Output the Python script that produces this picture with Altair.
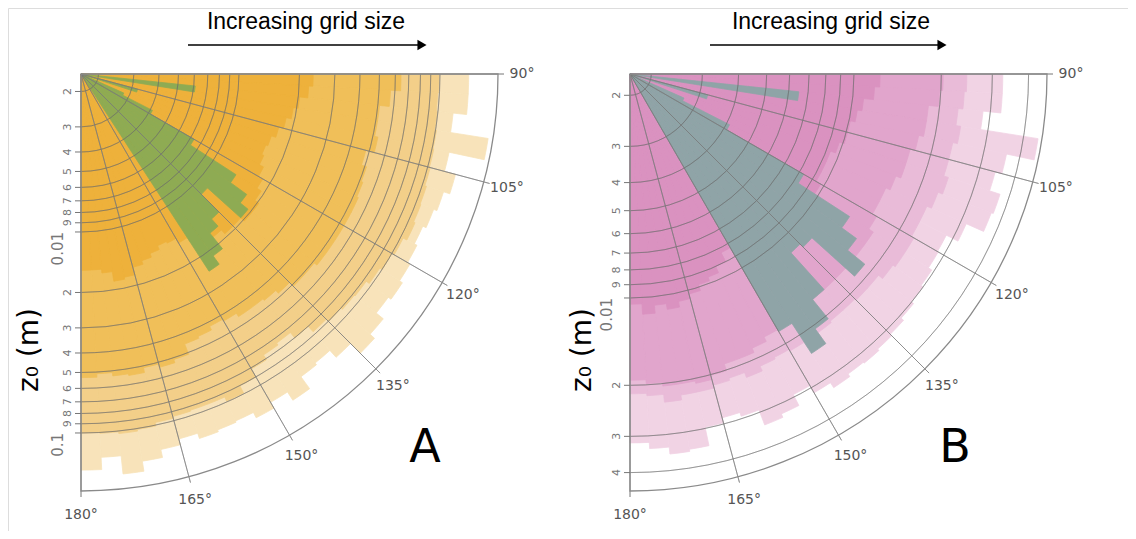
import math
import altair as alt
import pandas as pd

# ---------------- data ----------------
# 3-degree wind-direction bins (start angle, degrees)
BIN_START = list(range(90, 180, 3))
BIN_WIDTH = 3

# Panel A: z0 (m) per direction bin, four grid sizes (largest extent first)
A_L1 = [0.139, 0.139, 0.119, 0.184, 0.122, 0.139, 0.129, 0.124, 0.119, 0.123,
        0.127, 0.132, 0.127, 0.141, 0.151, 0.129, 0.116, 0.119, 0.141, 0.126,
        0.136, 0.127, 0.129, 0.132, 0.124, 0.133, 0.146, 0.164, 0.133, 0.153]
A_L2 = [0.099, 0.098, 0.099, 0.101, 0.102, 0.103, 0.105, 0.106, 0.108, 0.103,
        0.100, 0.097, 0.093, 0.092, 0.090, 0.087, 0.080, 0.074, 0.076, 0.081,
        0.090, 0.099, 0.094, 0.094, 0.095, 0.097, 0.101, 0.103, 0.101, 0.100]
A_L3 = [0.064, 0.057, 0.051, 0.051, 0.053, 0.048, 0.051, 0.052, 0.053, 0.053,
        0.053, 0.053, 0.053, 0.051, 0.051, 0.048, 0.046, 0.045, 0.045, 0.043,
        0.042, 0.044, 0.045, 0.051, 0.053, 0.051, 0.054, 0.053, 0.051, 0.053]
A_L4 = [0.0234, 0.0223, 0.0203, 0.0192, 0.0181, 0.0171, 0.0162, 0.0158, 0.0162, 0.0171,
        0.0181, 0.0192, 0.0203, 0.0203, 0.0192, 0.0192, 0.0181, 0.0171, 0.0162, 0.0153,
        0.0144, 0.0141, 0.0148, 0.0155, 0.0162, 0.0177, 0.0181, 0.0162, 0.0155, 0.0155]
A_OVER_DIR = [96, 105, 114, 117, 120, 123, 126, 129, 132, 135, 138, 141, 144]
A_OVER = [0.0061, 0.0032, 0.0028, 0.0041, 0.0073, 0.0136, 0.0171, 0.0192, 0.0115,
          0.0153, 0.0171, 0.0215, 0.0242]

# Panel B
B_L1 = [0.0326, 0.0326, 0.0283, 0.0449, 0.0359, 0.0340, 0.0371, 0.0365, 0.0314, 0.0283,
        0.0285, 0.0294, 0.0299, 0.0306, 0.0314, 0.0319, 0.0324, 0.0321, 0.0329, 0.0314,
        0.0294, 0.0324, 0.0334, 0.0294, 0.0285, 0.0297, 0.0345, 0.0351, 0.0332, 0.0316]
B_L2 = [0.0245, 0.0241, 0.0232, 0.0241, 0.0232, 0.0232, 0.0241, 0.0232, 0.0223, 0.0223,
        0.0228, 0.0228, 0.0223, 0.0214, 0.0214, 0.0211, 0.0211, 0.0214, 0.0223, 0.0214,
        0.0211, 0.0214, 0.0223, 0.0214, 0.0218, 0.0223, 0.0223, 0.0232, 0.0218, 0.0214]
B_L3 = [0.0203, 0.0198, 0.0183, 0.0183, 0.0176, 0.0169, 0.0169, 0.0162, 0.0156, 0.0156,
        0.0162, 0.0169, 0.0169, 0.0169, 0.0169, 0.0169, 0.0169, 0.0169, 0.0169, 0.0172,
        0.0176, 0.0183, 0.0190, 0.0190, 0.0201, 0.0208, 0.0204, 0.0204, 0.0198, 0.0192]
B_L4 = [0.0123, 0.0118, 0.0109, 0.0105, 0.0101, 0.0101, 0.0097, 0.0093, 0.0093, 0.0093,
        0.0097, 0.0101, 0.0101, 0.0101, 0.0101, 0.0101, 0.0101, 0.0101, 0.0101, 0.0101,
        0.0083, 0.0090, 0.0095, 0.0098, 0.0103, 0.0107, 0.0112, 0.0107, 0.0114, 0.0105]
B_OVER_DIR = [96, 105, 114, 117, 120, 123, 126, 129, 132, 135, 138, 141, 144, 147]
B_OVER = [0.0065, 0.0032, 0.0027, 0.0041, 0.0083, 0.0135, 0.0156, 0.0186, 0.0118,
          0.0114, 0.0169, 0.0206, 0.0238, 0.0179]

# radial (z0) ticks
A_TICKS = [0.002, 0.003, 0.004, 0.005, 0.006, 0.007, 0.008, 0.009, 0.01,
           0.02, 0.03, 0.04, 0.05, 0.06, 0.07, 0.08, 0.09, 0.1]
A_TICK_LABELS = ["2", "3", "4", "5", "6", "7", "8", "9", "0.01",
                 "2", "3", "4", "5", "6", "7", "8", "9", "0.1"]
B_TICKS = [0.002, 0.003, 0.004, 0.005, 0.006, 0.007, 0.008, 0.009, 0.01,
           0.02, 0.03, 0.04]
B_TICK_LABELS = ["2", "3", "4", "5", "6", "7", "8", "9", "0.01", "2", "3", "4"]

ANGLES = [90, 105, 120, 135, 150, 165, 180]
ANGLE_LABELS = ["90°", "105°", "120°", "135°", "150°", "165°", "180°"]

TITLE = "Increasing grid size"
RADIAL_TITLE = "z₀ (m)"

# ---------------- layout / style ----------------
FONT = "DejaVu Sans"
TWO_PI = 2 * math.pi

PANELS = [
    dict(cx=73, cy=66, R=417, zmin=0.001637, zmax=0.1944,
         layers=[A_L1, A_L2, A_L3, A_L4],
         colors=["#F8E3BA", "#F3CF89", "#F0BF59", "#EEB13B"],
         over_dir=A_OVER_DIR, over=A_OVER, over_color="#8EAB53",
         ticks=A_TICKS, tick_labels=A_TICK_LABELS,
         title_x=22, letter="A", letter_x=417, head_x=180, arrow_end=420, text_x=298),
    dict(cx=622, cy=66, R=417, zmin=0.001689, zmax=0.0463,
         layers=[B_L1, B_L2, B_L3, B_L4],
         colors=["#F1D3E4", "#E9BBD8", "#E1A5CC", "#DA92C0"],
         over_dir=B_OVER_DIR, over=B_OVER, over_color="#8FA4A7",
         ticks=B_TICKS, tick_labels=B_TICK_LABELS,
         title_x=575, letter="B", letter_x=947, head_x=702, arrow_end=940, text_x=823),
]

ONE = pd.DataFrame({"k": [0]})


def tscale():
    return alt.Scale(domain=[0, 360], range=[0, TWO_PI], nice=False)


def panel_layers(p):
    cx, cy, R = p["cx"], p["cy"], p["R"]

    def rscale():
        return alt.Scale(type="log", domain=[p["zmin"], p["zmax"]], range=[0, R], nice=False)

    def yscale():
        return alt.Scale(type="log", domain=[p["zmin"], p["zmax"]], range=[cy, cy + R], nice=False)

    out = []
    # stacked wedge layers
    for vals, col in zip(p["layers"], p["colors"]):
        df = pd.DataFrame({"t0": BIN_START, "t1": [b + BIN_WIDTH for b in BIN_START], "z0": vals})
        out.append(
            alt.Chart(df).mark_arc(fill=col, stroke=col, strokeWidth=0.8).encode(
                theta=alt.Theta("t0:Q", scale=tscale(), stack=False),
                theta2="t1:Q",
                radius=alt.Radius("z0:Q", scale=rscale()),
                x=alt.value(cx), y=alt.value(cy),
            )
        )
    # overlay series
    odf = pd.DataFrame({"t0": p["over_dir"], "t1": [b + BIN_WIDTH for b in p["over_dir"]], "z0": p["over"]})
    out.append(
        alt.Chart(odf).mark_arc(fill=p["over_color"], stroke=p["over_color"], strokeWidth=0.8).encode(
            theta=alt.Theta("t0:Q", scale=tscale(), stack=False),
            theta2="t1:Q",
            radius=alt.Radius("z0:Q", scale=rscale()),
            x=alt.value(cx), y=alt.value(cy),
        )
    )
    # circular grid
    tdf = pd.DataFrame({"v": p["ticks"], "lab": p["tick_labels"]})
    out.append(
        alt.Chart(tdf).mark_arc(filled=False, stroke="#6a6a6a", strokeOpacity=0.45, strokeWidth=1).encode(
            theta=alt.Theta(datum=90, scale=tscale()),
            theta2=alt.Theta2(datum=180),
            radius=alt.Radius("v:Q", scale=rscale()),
            radius2="v:Q",
            x=alt.value(cx), y=alt.value(cy),
        )
    )
    # angular spokes (with small outer ticks)
    adf = pd.DataFrame({"a": ANGLES, "lab": ANGLE_LABELS})
    out.append(
        alt.Chart(adf).mark_arc(filled=False, stroke="#7a7a7a", strokeOpacity=0.6, strokeWidth=1,
                                radiusOffset=6).encode(
            theta=alt.Theta("a:Q", scale=tscale(), stack=False),
            theta2="a:Q",
            radius=alt.Radius(datum=p["zmax"], scale=rscale()),
            x=alt.value(cx), y=alt.value(cy),
        )
    )
    # outer frame
    out.append(
        alt.Chart(ONE).mark_arc(filled=False, stroke="#8a8a8a", strokeWidth=1.3).encode(
            theta=alt.Theta(datum=90, scale=tscale()),
            theta2=alt.Theta2(datum=180),
            radius=alt.Radius(datum=p["zmax"], scale=rscale()),
            x=alt.value(cx), y=alt.value(cy),
        )
    )
    # angle labels
    out.append(
        alt.Chart(adf).mark_text(radiusOffset=24, fontSize=14, color="#555555", font=FONT).encode(
            theta=alt.Theta("a:Q", scale=tscale(), stack=False),
            radius=alt.Radius(datum=p["zmax"], scale=rscale()),
            text="lab:N",
            x=alt.value(cx), y=alt.value(cy),
        )
    )
    # radial ticks
    out.append(
        alt.Chart(tdf).mark_rule(color="#777777", strokeWidth=1).encode(
            y=alt.Y("v:Q", scale=yscale(), axis=None),
            x=alt.value(cx - 6), x2=alt.value(cx),
        )
    )
    minor = tdf[tdf["lab"].str.len() == 1]
    major = tdf[tdf["lab"].str.len() > 1]
    out.append(
        alt.Chart(minor).mark_text(angle=270, align="center", baseline="bottom", fontSize=11,
                                   color="#777777", font=FONT).encode(
            y=alt.Y("v:Q", scale=yscale(), axis=None),
            x=alt.value(cx - 8), text="lab:N",
        )
    )
    out.append(
        alt.Chart(major).mark_text(angle=270, align="right", baseline="bottom", fontSize=15,
                                   color="#777777", font=FONT).encode(
            y=alt.Y("v:Q", scale=yscale(), axis=None),
            x=alt.value(cx - 15), text="lab:N",
        )
    )
    # radial title
    out.append(
        alt.Chart(pd.DataFrame({"t": [RADIAL_TITLE]})).mark_text(
            angle=270, fontSize=28, font=FONT, color="black", align="center", baseline="middle").encode(
            x=alt.value(p["title_x"]), y=alt.value(342), text="t:N")
    )
    # panel letter
    out.append(
        alt.Chart(pd.DataFrame({"t": [p["letter"]]})).mark_text(
            fontSize=46, font=FONT, color="black", align="center", baseline="middle").encode(
            x=alt.value(p["letter_x"]), y=alt.value(440), text="t:N")
    )
    # header text + arrow
    out.append(
        alt.Chart(pd.DataFrame({"t": [TITLE]})).mark_text(
            fontSize=23, font="Liberation Sans", color="black", align="center",
            baseline="middle").encode(
            x=alt.value(p["text_x"]), y=alt.value(14), text="t:N")
    )
    out.append(
        alt.Chart(ONE).mark_rule(color="black", strokeWidth=1.6).encode(
            x=alt.value(p["head_x"]), x2=alt.value(p["arrow_end"] - 8), y=alt.value(37))
    )
    out.append(
        alt.Chart(ONE).mark_point(shape="triangle-right", filled=True, color="black",
                                  opacity=1, size=110).encode(
            x=alt.value(p["arrow_end"] - 6), y=alt.value(37))
    )
    return out


layers = []
for p in PANELS:
    layers.extend(panel_layers(p))

chart = (
    alt.layer(*layers)
    .properties(width=1120, height=523, autosize=alt.AutoSizeParams(type="none"), padding=0)
    .resolve_scale(theta="independent", radius="independent", y="independent")
    .configure_view(stroke="transparent")
    .configure(background="white")
)

chart.save("out.html", embed_options={"renderer": "svg", "actions": False})
